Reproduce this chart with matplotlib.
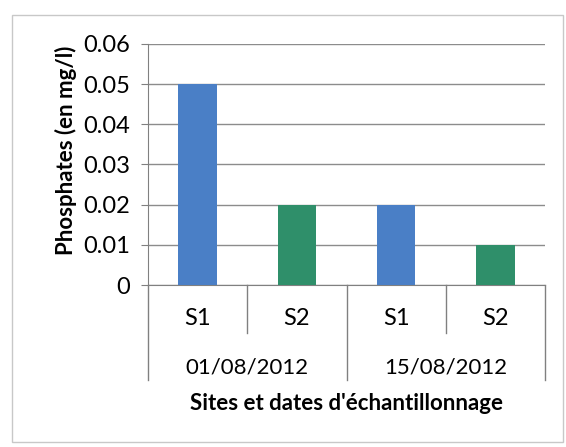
import matplotlib.pyplot as plt
from matplotlib.patches import Rectangle
import matplotlib.transforms as mtransforms

plt.rcParams['font.family'] = ['Lato', 'DejaVu Sans']

sites = ['S1', 'S2', 'S1', 'S2']
dates = ['01/08/2012', '15/08/2012']
phosphates = [0.05, 0.02, 0.02, 0.01]
bar_colors = ['#4a7fc6', '#2f8f6a', '#4a7fc6', '#2f8f6a']
y_ticks = [0, 0.01, 0.02, 0.03, 0.04, 0.05, 0.06]

fig = plt.figure(figsize=(5.66, 4.47), dpi=100)
ax = fig.add_axes([0.2615, 0.3624, 0.7014, 0.5392])

# chart frame
fig.patches.append(Rectangle((12 / 566, 1 - 442 / 447), 551 / 566, 427 / 447,
                             transform=fig.transFigure, fill=False,
                             edgecolor='#c8c8c8', linewidth=1.0))

x = range(len(phosphates))
ax.bar(x, phosphates, width=0.39, color=bar_colors, zorder=3)

ax.set_xlim(-0.5, len(phosphates) - 0.5)
ax.set_ylim(0, 0.06)
ax.set_yticks(y_ticks)
ax.set_yticklabels([('%g' % v) for v in y_ticks], fontsize=17)
ax.yaxis.grid(True, color='#8c8c8c', linewidth=1.0, zorder=0)
ax.tick_params(axis='y', direction='out', length=5, color='#808080', pad=8)
ax.set_xticks([])

for side in ['top', 'right']:
    ax.spines[side].set_visible(False)
ax.spines['left'].set_color('#808080')
ax.spines['bottom'].set_color('#808080')

ax.set_ylabel('Phosphates (en mg/l)', fontsize=16, fontweight='bold')
ax.yaxis.set_label_coords(-0.18, 0.56)

# two-level category axis below the plot
trans = mtransforms.blended_transform_factory(ax.transData, ax.transAxes)
px = 1 / 241.0
for i, s in enumerate(sites):
    ax.text(i, -33 * px, s, transform=trans, ha='center', va='center', fontsize=17)
for j, d in enumerate(dates):
    ax.text(2 * j + 0.5, -82 * px, d, transform=trans, ha='center', va='center', fontsize=16)

for xv in [0.5, 2.5]:
    ax.plot([xv, xv], [0, -48 * px], transform=trans, color='#808080',
            linewidth=1.0, clip_on=False)
for xv in [-0.5, 1.5, 3.5]:
    ax.plot([xv, xv], [0, -95 * px], transform=trans, color='#808080',
            linewidth=1.0, clip_on=False)

ax.text(1.5, -118 * px, "Sites et dates d'échantillonnage", transform=trans,
        ha='center', va='center', fontsize=16, fontweight='bold')

fig.savefig('out.png', dpi=100)
